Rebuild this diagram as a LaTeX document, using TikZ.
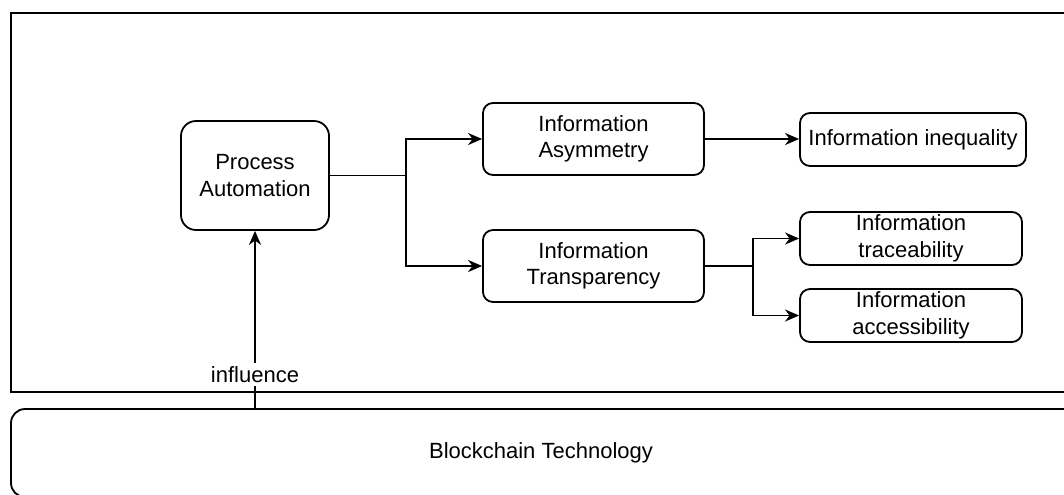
\documentclass[tikz,border=0pt]{standalone}
\usepackage{fontspec}
\setmainfont{Liberation Sans}
\usetikzlibrary{arrows.meta}
\begin{document}
\begin{tikzpicture}[x=0.5pt,y=-0.5pt,
  txt/.style={font=\fontsize{11}{13.3}\selectfont},
  box/.style={draw, line width=0.9pt, rounded corners=5pt, align=center, inner sep=0pt, txt},
  arr/.style={-{Stealth[length=7pt,width=6pt,inset=2.2pt]}, line width=0.9pt},
  conn/.style={line width=0.9pt}]
\useasboundingbox (0,0) rectangle (1064,494);
\clip (0,0) rectangle (1064,494);
% container and base layer
\node[draw, line width=1.1pt, minimum width=544.5pt, minimum height=189.5pt, inner sep=0pt] (frame) at (555.5,202.5) {};
\node[box, rounded corners=7pt, minimum width=544.5pt, minimum height=44pt] (bc) at (555.5,453) {\hspace*{-14.5pt}Blockchain Technology};
% nodes
\node[box, rounded corners=7.5pt, minimum width=74pt, minimum height=54.5pt] (pa) at (255,175.5) {Process\\Automation};
\node[box, minimum width=110.5pt, minimum height=36pt] (asym) at (593.5,139) {Information\\Asymmetry};
\node[box, minimum width=110.5pt, minimum height=36pt] (transp) at (593.5,266) {Information\\Transparency};
\node[box, minimum width=113pt, minimum height=26.5pt] (ineq) at (913,139.5) {Information inequality};
\node[box, minimum width=111pt, minimum height=26.5pt] (trace) at (911,238.5) {Information\\traceability};
\node[box, minimum width=111pt, minimum height=26.5pt] (access) at (911,315.5) {Information\\accessibility};
% junctions
\coordinate (j1) at (406,175.5);
\coordinate (j2) at (753,266);
% connectors
\draw[conn] (pa.east) -- (j1);
\draw[arr] (j1) |- (asym.west);
\draw[arr] (j1) |- (transp.west);
\draw[arr] (asym.east) -- (asym.east -| ineq.west);
\draw[conn] (transp.east) -- (j2);
\draw[arr] (j2) |- (trace.west);
\draw[arr] (j2) |- (access.west);
\draw[arr] (pa.south |- bc.north) -- node[pos=0.19, fill=white, inner sep=1.5pt, txt] (infl) {influence} (pa.south);
\end{tikzpicture}
\end{document}
